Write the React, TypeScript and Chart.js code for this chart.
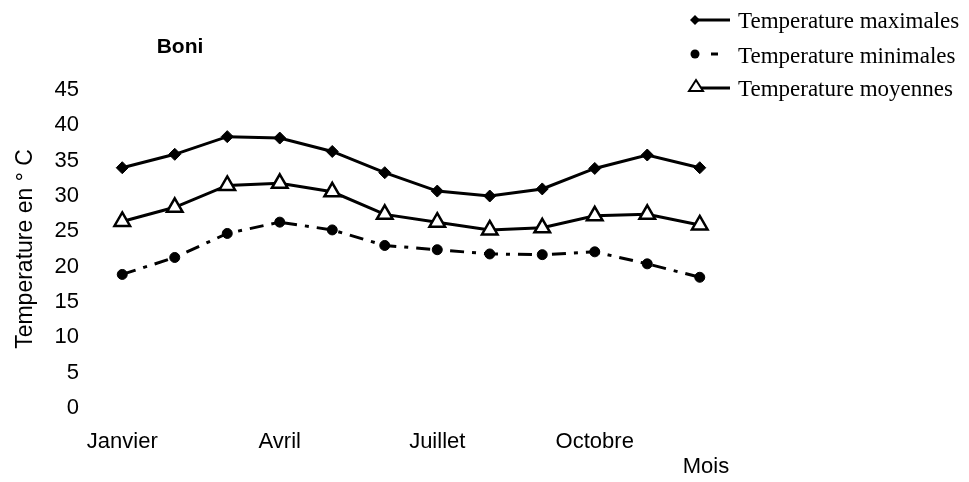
import React, { useEffect, useRef } from 'react';
import { Chart, registerables } from 'chart.js';
Chart.register(...registerables);

const months = ['Janvier', 'Février', 'Mars', 'Avril', 'Mai', 'Juin', 'Juillet', 'Août', 'Septembre', 'Octobre', 'Novembre', 'Décembre'];
const tickLabels = ['Janvier', '', '', 'Avril', '', '', 'Juillet', '', '', 'Octobre', '', ''];
const tempMax = [34.0, 35.9, 38.4, 38.2, 36.3, 33.3, 30.7, 30.0, 31.0, 33.9, 35.8, 34.0];
const tempMin = [18.9, 21.3, 24.7, 26.3, 25.2, 23.0, 22.4, 21.8, 21.7, 22.1, 20.4, 18.5];
const tempMoy = [26.4, 28.4, 31.5, 31.8, 30.6, 27.4, 26.3, 25.2, 25.5, 27.2, 27.4, 25.9];
const seriesNames = ['Temperature maximales', 'Temperature minimales', 'Temperature moyennes'];
const chartTitle = 'Boni';
const yTitle = 'Temperature en ° C';
const xTitle = 'Mois';

const SANS = '"Liberation Sans", Arial, sans-serif';
const SERIF = '"Liberation Serif", "Times New Roman", serif';

const overlayPlugin = {
  id: 'overlay',
  afterDraw(chart: any) {
    const ctx = chart.ctx;
    ctx.save();
    ctx.fillStyle = '#000';
    ctx.strokeStyle = '#000';
    // title
    ctx.font = `bold 21px ${SANS}`;
    ctx.textAlign = 'center';
    ctx.textBaseline = 'middle';
    ctx.fillText(chartTitle, 180, 47);
    // x title
    ctx.font = `22px ${SANS}`;
    ctx.fillText(xTitle, 706, 467);
    // legend
    const lineY = [20, 54, 88];
    const textY = [22, 57, 90];
    lineY.forEach((y, i) => {
      ctx.lineWidth = 3;
      ctx.beginPath();
      if (i === 1) {
        ctx.moveTo(711, y);
        ctx.lineTo(718, y);
      } else {
        ctx.moveTo(695, y);
        ctx.lineTo(730, y);
      }
      ctx.stroke();
      if (i === 0) {
        ctx.beginPath();
        ctx.moveTo(695, y - 5);
        ctx.lineTo(700, y);
        ctx.lineTo(695, y + 5);
        ctx.lineTo(690, y);
        ctx.closePath();
        ctx.fill();
      } else if (i === 1) {
        ctx.beginPath();
        ctx.arc(695, y, 4.5, 0, Math.PI * 2);
        ctx.fill();
      } else {
        ctx.lineWidth = 2;
        ctx.beginPath();
        ctx.moveTo(696, y - 8);
        ctx.lineTo(703, y + 3);
        ctx.lineTo(689, y + 3);
        ctx.closePath();
        ctx.fillStyle = '#fff';
        ctx.fill();
        ctx.stroke();
        ctx.fillStyle = '#000';
      }
      ctx.font = `23px ${SERIF}`;
      ctx.textAlign = 'left';
      ctx.textBaseline = 'middle';
      ctx.fillText(seriesNames[i], 738, textY[i]);
    });
    ctx.restore();
  },
};

export default function App() {
  const ref = useRef<HTMLCanvasElement>(null);
  useEffect(() => {
    document.body.style.margin = '0';
    document.body.style.overflow = 'hidden';
    const chart = new Chart(ref.current!, {
      type: 'line',
      data: {
        labels: months,
        datasets: [
          {
            label: seriesNames[0],
            data: tempMax,
            borderColor: '#000',
            backgroundColor: '#000',
            borderWidth: 3,
            pointStyle: 'rectRot',
            pointRadius: 6,
            pointBorderWidth: 1,
            tension: 0,
          },
          {
            label: seriesNames[1],
            data: tempMin,
            borderColor: '#000',
            backgroundColor: '#000',
            borderWidth: 3,
            borderDash: [14, 8, 4, 8],
            pointStyle: 'circle',
            pointRadius: 5,
            pointBorderWidth: 1,
            tension: 0,
          },
          {
            label: seriesNames[2],
            data: tempMoy,
            borderColor: '#000',
            backgroundColor: '#fff',
            borderWidth: 3,
            pointStyle: 'triangle',
            pointRadius: 9,
            pointBorderWidth: 2.5,
            tension: 0,
          },
        ],
      },
      options: {
        animation: false,
        responsive: false,
        layout: { padding: { top: 90, right: 243, bottom: 0, left: 0 } },
        plugins: { legend: { display: false }, tooltip: { enabled: false } },
        scales: {
          x: {
            offset: true,
            grid: { display: false, drawTicks: false },
            border: { display: false },
            ticks: {
              autoSkip: false,
              maxRotation: 0,
              padding: 21,
              color: '#000',
              font: { family: SANS, size: 22 },
              callback: (_v: any, i: number) => tickLabels[i],
            },
            afterFit: (s: any) => { s.height = 74; },
          },
          y: {
            min: 0,
            max: 45,
            grid: { display: false, drawTicks: false },
            border: { display: false },
            ticks: { stepSize: 5, padding: 17, color: '#000', font: { family: SANS, size: 22 } },
            title: {
              display: true,
              text: yTitle,
              color: '#000',
              font: { family: SANS, size: 23 },
              padding: { top: 12, bottom: 0 },
            },
            afterFit: (s: any) => { s.width = 96; },
          },
        },
      },
      plugins: [overlayPlugin],
    });
    return () => chart.destroy();
  }, []);
  return <canvas ref={ref} width={969} height={482} style={{ display: 'block' }} />;
}
